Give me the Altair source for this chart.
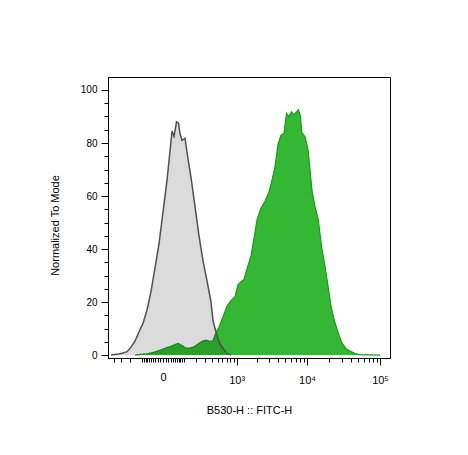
import altair as alt
import pandas as pd

# histogram channels (display units, 0 = zero fluorescence) and % of mode
gray_ch = [-52, -48, -44, -40, -36, -32, -28, -24, -20, -16, -12, -8, -4, 0, 4, 7, 9, 11,
           13.5, 15.5, 17, 19, 22, 25, 28, 32, 36, 40, 44, 48, 50, 52, 56, 60, 64, 68]
gray_val = [0, 0.2, 0.4, 0.8, 1.3, 3, 5.3, 8.8, 12, 17, 24, 33, 42, 54, 66, 77, 84.5, 82.5,
            88, 87.5, 83.5, 81, 81.8, 74, 67, 56, 45, 35.5, 28, 20, 13, 10, 5, 2.5, 0.7, 0]

green_ch = [-28, -24, -20, -16, -12, -8, -4, 0, 4, 8, 12, 15, 19, 23, 27, 31, 35, 39, 43, 47,
            50, 53, 56, 60, 64, 68, 72, 75, 78, 81, 84, 88, 91, 94, 98, 102, 106, 109, 112,
            115, 118, 121, 123.5, 125.5, 128.5, 131, 133, 135.5, 137.5, 138.7, 142, 145, 147,
            149, 152, 155.3, 158.7, 162, 165, 168, 171, 175, 179, 183, 187, 192, 197, 202,
            207, 213, 217]
green_val = [0, 0.2, 0.4, 0.5, 0.8, 1.2, 1.7, 2.3, 2.8, 3.3, 4, 4.4, 3.6, 2.6, 2.6, 3.1, 4.2,
             5.2, 5.6, 5.2, 5.4, 8.5, 10.5, 14.5, 18.5, 20.5, 22, 26.5, 27.7, 28.5, 32.5, 37.5,
             44, 51, 55.5, 58, 61.5, 66, 71, 79.5, 83, 83.6, 91.2, 90, 91.8, 90.6, 91.5, 92.5,
             90, 84, 82.4, 77.5, 70, 62, 56, 51, 40.5, 33.5, 26, 18.5, 13.5, 8.5, 4.5, 2.4,
             1.5, 0.6, 0.2, 0.1, 0.05, 0, 0]

y_ticks = [0, 5, 10, 15, 20, 25, 30, 35, 40, 45, 50, 55, 60, 65, 70, 75, 80, 85, 90, 95, 100]
x_ticks = [-400, -300, -200, -100, -90, -80, -70, -60, -50, -40, -30, -20, -10, 0,
           10, 20, 30, 40, 50, 60, 70, 80, 90,
           100, 200, 300, 400, 500, 600, 700, 800, 900, 1000,
           2000, 3000, 4000, 5000, 6000, 7000, 8000, 9000, 10000,
           20000, 30000, 40000, 50000, 60000, 70000, 80000, 90000, 100000]

C = 110
K = 31.85
to_fitc = f"(datum.ch < 0 ? -1 : 1) * {C} * (exp(abs(datum.ch) / {K}) - 1)"

gray_df = pd.DataFrame({"ch": gray_ch, "v": gray_val})
green_df = pd.DataFrame({"ch": green_ch, "v": green_val})

x_enc = alt.X(
    "fitc:Q",
    scale=alt.Scale(type="symlog", constant=C, domain=[-509, 136850], nice=False),
    axis=alt.Axis(
        values=x_ticks,
        title="B530-H :: FITC-H",
        labelExpr="datum.value == 0 ? '0' : datum.value == 1000 ? '10³' : datum.value == 10000 ? '10⁴' : datum.value == 100000 ? '10⁵' : ''",
        tickSize={"condition": {"test": "indexof([1000, 10000, 100000], datum.value) >= 0", "value": 7}, "value": 4},
        labelOverlap=False,
        labelFlush=False,
        labelPadding=9,
        labelFontSize=11,
        titlePadding=19,
        grid=False,
    ),
)
y_enc = alt.Y(
    "v:Q",
    scale=alt.Scale(domain=[-1.1, 104.9], nice=False, zero=False),
    axis=alt.Axis(
        values=y_ticks,
        title="Normalized To Mode",
        labelExpr="datum.value % 20 == 0 ? datum.label : ''",
        tickSize={"condition": {"test": "datum.value % 20 == 0", "value": 7}, "value": 4},
        labelOverlap=False,
        labelPadding=4,
        titlePadding=20,
        titleY=148,
        grid=False,
    ),
)

green_area = alt.Chart(green_df).transform_calculate(fitc=to_fitc).mark_area(
    color="#34b834", clip=True).encode(x=x_enc, y=y_enc)
green_line = alt.Chart(green_df).transform_calculate(fitc=to_fitc).mark_line(
    color="#12a012", strokeWidth=1.2, clip=True).encode(x=x_enc, y=y_enc)
gray_area = alt.Chart(gray_df).transform_calculate(fitc=to_fitc).mark_area(
    color="black", opacity=0.14, clip=True).encode(x=x_enc, y=y_enc)
gray_line = alt.Chart(gray_df).transform_calculate(fitc=to_fitc).mark_line(
    color="#505050", strokeWidth=1.5, clip=True).encode(x=x_enc, y=y_enc)

chart = alt.layer(green_area, green_line, gray_area, gray_line).properties(
    width=282,
    height=281,
    autosize=alt.AutoSizeParams(type="none"),
    padding={"left": 100, "top": 69, "right": 70, "bottom": 89},
).configure_view(
    stroke="black", strokeWidth=1
).configure_axis(
    domainColor="black",
    tickColor="black",
    labelColor="black",
    titleColor="black",
    labelFont="Liberation Sans",
    titleFont="Liberation Sans",
    labelFontSize=10,
    titleFontSize=11,
    titleFontWeight="normal",
    tickWidth=1,
    domainWidth=1,
)

chart.save("out.html", embed_options={"renderer": "svg", "actions": False})
